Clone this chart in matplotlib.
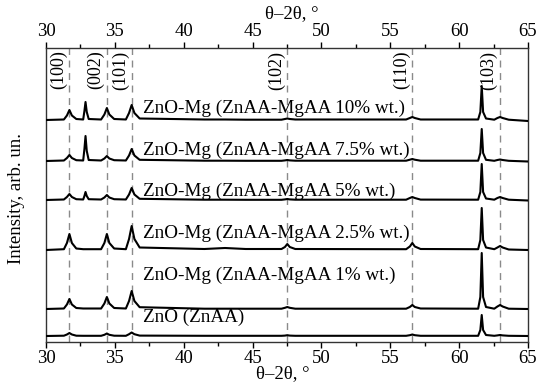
import matplotlib
matplotlib.use("Agg")
import matplotlib.pyplot as plt
from matplotlib.ticker import MultipleLocator
import numpy as np

# ---------------- data ----------------
# 2theta key points shared by all traces (deg)
two_theta = [30.0, 31.30, 31.52, 31.70, 31.88, 32.20, 32.70, 32.79, 32.87, 32.96, 33.10,
             34.00, 34.24, 34.42, 34.60, 34.95, 35.80, 36.03, 36.22, 36.42, 36.80,
             41.5, 43.0, 44.5, 47.10, 47.35, 47.52, 47.70, 48.10,
             56.15, 56.42, 56.60, 56.78, 57.20,
             61.38, 61.54, 61.64, 61.74, 61.95,
             62.55, 62.78, 62.97, 63.16, 63.60, 65.0]

# intensities above each trace's own baseline (arb. un.)
I_mg10 = [0, 0.5, 4.5, 10, 4.5, 1, 0.5, 9, 18, 8, 1,
          0.5, 5.5, 12, 5.5, 1, 0.5, 7, 15, 7, 1.5,
          0.5, 0.5, 0.3, 0.3, 1, 1.5, 1, 0.5,
          0.5, 2, 3, 2, 0.5,
          0.5, 8, 34, 8, 1.5,
          0.3, 2, 3, 2, 0.3, -1]
I_mg75 = [0, 0.5, 3, 6, 3, 0.8, 0.5, 12, 25, 10, 1,
          0.5, 2.5, 5, 2.5, 0.8, 0.5, 5.5, 12, 5.5, 1.2,
          0.3, 0.3, 0.2, 0.2, 0.6, 1, 0.6, 0.3,
          0.3, 1.3, 2, 1.3, 0.3,
          0.3, 8, 32, 8, 1.2,
          0.2, 1, 1.5, 1, 0.2, -0.5]
I_mg5 = [0, 0.5, 3, 6, 3, 0.8, 0.5, 4, 8, 4, 0.8,
         0.5, 2.5, 5, 2.5, 0.8, 0.5, 5.5, 12, 5.5, 1.2,
         0.3, 0.3, 0.2, 0.2, 0.6, 1, 0.6, 0.3,
         0.3, 2, 3, 2, 0.4,
         0.3, 8, 36, 8, 1.5,
         0.3, 2, 3, 2, 0.3, -0.5]
I_mg25 = [0, 0.8, 7, 16, 7, 1.5, 0.8, 0.8, 0.8, 0.8, 0.8,
          0.8, 7, 16, 7, 1.5, 0.8, 11, 24, 11, 2.5,
          1, 2, 1, 1, 3, 6, 3, 1,
          0.8, 3.5, 7, 3.5, 1,
          0.8, 10, 42, 10, 2.5,
          0.8, 2.5, 4, 2.5, 0.5, 0]
I_mg1 = [0, 0.5, 4.5, 10, 4.5, 1, 0.5, 0.5, 0.5, 0.5, 0.5,
         0.5, 5.5, 12, 5.5, 1, 0.5, 8, 18, 8, 1.8,
         0.3, 0.3, 0.3, 0.3, 1.2, 2, 1.2, 0.3,
         0.3, 2, 4, 2, 0.5,
         0.3, 12, 56, 12, 2,
         0.3, 2.5, 4, 2.5, 0.3, 0]
I_zno = [0, 0.3, 1.5, 3, 1.5, 0.3, 0.2, 0.2, 0.2, 0.2, 0.2,
         0.2, 1.2, 2.5, 1.2, 0.3, 0.2, 1.8, 3.5, 1.8, 0.4,
         0.2, 0.2, 0.2, 0.2, 0.4, 0.8, 0.4, 0.2,
         0.2, 0.8, 1.5, 0.8, 0.2,
         0.2, 6, 21, 6, 1,
         0.2, 0.6, 1, 0.6, 0.2, 0]

series = [I_mg10, I_mg75, I_mg5, I_mg25, I_mg1, I_zno]
offsets = [222, 181, 142, 92, 33, 6]

sample_labels = ["ZnO-Mg (ZnAA-MgAA 10% wt.)",
                 "ZnO-Mg (ZnAA-MgAA 7.5% wt.)",
                 "ZnO-Mg (ZnAA-MgAA 5% wt.)",
                 "ZnO-Mg (ZnAA-MgAA 2.5% wt.)",
                 "ZnO-Mg (ZnAA-MgAA 1% wt.)",
                 "ZnO (ZnAA)"]
label_y = [234, 192, 151, 109, 67, 25]

# ZnO reflections
hkl_pos = [31.70, 34.43, 36.22, 47.52, 56.60, 62.97]
hkl_labels = ["(100)", "(002)", "(101)", "(102)", "(110)", "(103)"]

# ---------------- plot ----------------
FONT = "Liberation Serif"
plt.rcParams["font.family"] = [FONT, "DejaVu Serif"]
plt.rcParams["font.size"] = 13

fig = plt.figure(figsize=(5.39, 3.85), dpi=100)
ax = fig.add_axes([46 / 539, 1 - 342 / 385, (528 - 46) / 539, (342 - 48) / 385])

for p in hkl_pos:
    ax.axvline(p, color="#8a8a8a", lw=1.0, ls=(0, (5, 4)), zorder=1)

for y, off in zip(series, offsets):
    ax.plot(two_theta, np.array(y) + off, color="black", lw=1.5, zorder=3)

for txt, yy in zip(sample_labels, label_y):
    ax.text(37.05, yy, txt, ha="left", va="center", fontsize=13.8, zorder=4)

for p, txt in zip(hkl_pos, hkl_labels):
    ax.text(p - 0.8, 272, txt, rotation=90, ha="center", va="center", fontsize=13, zorder=4)

ax.set_xlim(30, 65)
ax.set_ylim(0, 294)
ax.xaxis.set_major_locator(MultipleLocator(5))
ax.xaxis.set_minor_locator(MultipleLocator(2.5))
ax.tick_params(axis="x", which="both", direction="out", top=True, bottom=True,
               labeltop=True, labelbottom=True, labelsize=13.5, pad=2)
ax.tick_params(axis="x", which="major", length=4, width=1)
ax.tick_params(axis="x", which="minor", length=3, width=1)
ax.set_yticks([])
for s in ax.spines.values():
    s.set_linewidth(1.0)
    s.set_color("#333333")

fig.text(292 / 539, 1 - 14 / 385, "θ–2θ, °", ha="center", va="center", fontsize=13.5)
fig.text(283 / 539, 1 - 374 / 385, "θ–2θ, °", ha="center", va="center", fontsize=13.5)
fig.text(17 / 539, 1 - 198 / 385, "Intensity, arb. un.", rotation=90,
         ha="center", va="center", fontsize=13.5)

fig.savefig("out.png", dpi=100)
